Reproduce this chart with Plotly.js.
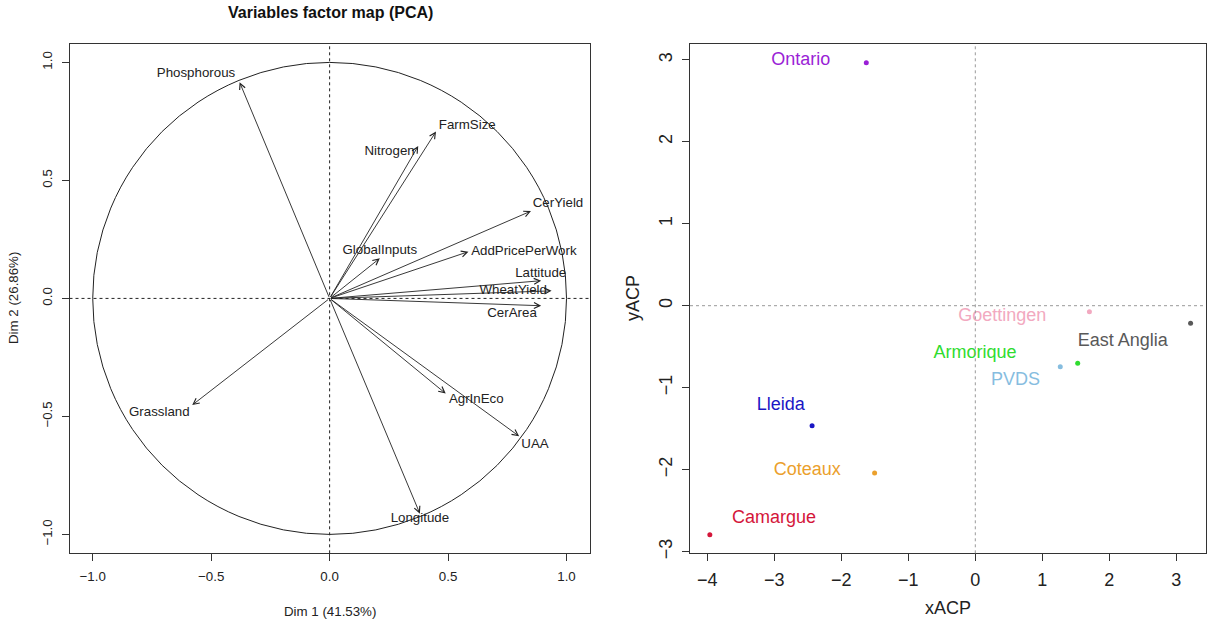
<!DOCTYPE html>
<html><head><meta charset="utf-8">
<script src="https://cdn.plot.ly/plotly-3.0.1.min.js"></script>
<style>html,body{margin:0;padding:0;background:#fff}#chart{width:1213px;height:624px}</style>
</head><body><div id="chart"></div>
<script>
// ---- Data: PCA variable loadings (left panel) ----
const variables = ['Phosphorous','Nitrogen','FarmSize','CerYield','GlobalInputs','AddPricePerWork','Lattitude','WheatYield','CerArea','Grassland','AgrInEco','UAA','Longitude'];
const dim1 = [-0.380, 0.374, 0.449, 0.850, 0.212, 0.586, 0.893, 0.937, 0.893, -0.580, 0.490, 0.800, 0.381];
const dim2 = [0.916, 0.646, 0.707, 0.370, 0.170, 0.198, 0.075, 0.032, -0.031, -0.452, -0.403, -0.584, -0.912];
const varLabelX = [-0.564, 0.253, 0.581, 0.964, 0.212, 0.820, 0.891, 0.775, 0.770, -0.719, 0.619, 0.867, 0.381];
const varLabelY = [0.954, 0.622, 0.732, 0.400, 0.204, 0.196, 0.106, 0.032, -0.064, -0.485, -0.431, -0.618, -0.935];
const leftTicks = [-1.0, -0.5, 0.0, 0.5, 1.0];

// ---- Data: individuals (right panel) ----
const regions = ['Ontario','Goettingen','East Anglia','Armorique','PVDS','Lleida','Coteaux','Camargue'];
const xACP = [-1.627, 1.703, 3.213, 1.528, 1.268, -2.436, -1.503, -3.962];
const yACP = [2.965, -0.073, -0.215, -0.703, -0.744, -1.464, -2.042, -2.794];
const regionLabelX = [-2.605, 0.403, 2.201, -0.003, 0.600, -2.904, -2.509, -3.005];
const regionLabelY = [2.990, -0.134, -0.439, -0.589, -0.907, -1.212, -2.013, -2.595];
const regionColors = ['#9A1FD6', '#F2A9C0', '#595959', '#2FDC2F', '#86BDDF', '#1A16C4', '#EBA02C', '#D4163A'];
const rightXTicks = [-4, -3, -2, -1, 0, 1, 2, 3];
const rightYTicks = [-3, -2, -1, 0, 1, 2, 3];

const FONT = 'Liberation Sans, Arial, Helvetica, sans-serif';
const INK = '#222222';
const W = 1213, H = 624;

const traces = [
  {
    type: 'scatter', mode: 'text', x: varLabelX, y: varLabelY, text: variables,
    textposition: 'middle center', textfont: {family: FONT, size: 13.3, color: INK},
    xaxis: 'x', yaxis: 'y', hoverinfo: 'skip', showlegend: false, cliponaxis: false
  },
  {
    type: 'scatter', mode: 'markers', x: xACP, y: yACP, text: regions,
    marker: {size: 5, color: regionColors},
    xaxis: 'x2', yaxis: 'y2', showlegend: false
  },
  {
    type: 'scatter', mode: 'text', x: regionLabelX, y: regionLabelY, text: regions,
    textposition: 'middle center', textfont: {family: FONT, size: 18, color: regionColors},
    xaxis: 'x2', yaxis: 'y2', hoverinfo: 'skip', showlegend: false, cliponaxis: false
  }
];

const annotations = variables.map((v, i) => ({
  xref: 'x', yref: 'y', axref: 'x', ayref: 'y',
  x: dim1[i], y: dim2[i], ax: 0, ay: 0,
  text: '', showarrow: true, arrowhead: 5, arrowsize: 1.3, arrowwidth: 0.9,
  arrowcolor: INK, standoff: 0, startstandoff: 0
}));

annotations.push(
  {xref: 'paper', yref: 'paper', x: 330/W, y: 1 - 12/H, text: '<b>Variables factor map (PCA)</b>',
   showarrow: false, font: {family: FONT, size: 16, color: '#111'}, xanchor: 'center', yanchor: 'middle'},
  {xref: 'paper', yref: 'paper', x: 330/W, y: 1 - 611/H, text: 'Dim 1 (41.53%)',
   showarrow: false, font: {family: FONT, size: 13.3, color: INK}, xanchor: 'center', yanchor: 'middle'},
  {xref: 'paper', yref: 'paper', x: 13/W, y: 1 - 298/H, text: 'Dim 2 (26.86%)', textangle: -90,
   showarrow: false, font: {family: FONT, size: 13.3, color: INK}, xanchor: 'center', yanchor: 'middle'},
  {xref: 'paper', yref: 'paper', x: 948/W, y: 1 - 608/H, text: 'xACP',
   showarrow: false, font: {family: FONT, size: 18, color: INK}, xanchor: 'center', yanchor: 'middle'},
  {xref: 'paper', yref: 'paper', x: 633/W, y: 1 - 298/H, text: 'yACP', textangle: -90,
   showarrow: false, font: {family: FONT, size: 18, color: INK}, xanchor: 'center', yanchor: 'middle'}
);

const shapes = [
  {type: 'circle', xref: 'x', yref: 'y', x0: -1, x1: 1, y0: -1, y1: 1, line: {color: INK, width: 1}},
  {type: 'line', xref: 'x', yref: 'y domain', x0: 0, x1: 0, y0: 0, y1: 1, line: {color: INK, width: 1, dash: '3px,3px'}},
  {type: 'line', xref: 'x domain', yref: 'y', x0: 0, x1: 1, y0: 0, y1: 0, line: {color: INK, width: 1, dash: '3px,3px'}},
  {type: 'line', xref: 'x2', yref: 'y2 domain', x0: 0, x1: 0, y0: 0, y1: 1, line: {color: '#999', width: 1, dash: 'dot'}},
  {type: 'line', xref: 'x2 domain', yref: 'y2', x0: 0, x1: 1, y0: 0, y1: 0, line: {color: '#999', width: 1, dash: 'dot'}}
];

const axCommon = {
  showgrid: false, zeroline: false, showline: true, mirror: true, linecolor: '#333', linewidth: 1,
  ticks: 'outside', ticklen: 7, tickcolor: '#333', tickwidth: 1, automargin: false, fixedrange: true
};

const layout = {
  width: W, height: H,
  margin: {l: 0, r: 0, t: 0, b: 0},
  paper_bgcolor: '#ffffff', plot_bgcolor: '#ffffff',
  font: {family: FONT, color: INK},
  showlegend: false,
  xaxis: Object.assign({}, axCommon, {
    domain: [69.5/W, 589.5/W], range: [-1.098, 1.097], anchor: 'y',
    tickvals: leftTicks, tickformat: '.1f', tickfont: {family: FONT, size: 13.3, color: INK}, ticklabelstandoff: 4
  }),
  yaxis: Object.assign({}, axCommon, {
    domain: [1 - 553.3/H, 1 - 44/H], range: [-1.08, 1.078], anchor: 'x',
    tickvals: leftTicks, tickformat: '.1f', tickangle: -90, tickfont: {family: FONT, size: 13.3, color: INK}, ticklabelstandoff: 4
  }),
  xaxis2: Object.assign({}, axCommon, {
    domain: [690/W, 1206/W], range: [-4.258, 3.443], anchor: 'y2',
    tickvals: rightXTicks, tickfont: {family: FONT, size: 18, color: INK}, ticklabelstandoff: 3
  }),
  yaxis2: Object.assign({}, axCommon, {
    domain: [1 - 553.3/H, 1 - 44/H], range: [-3.021, 3.193], anchor: 'x2',
    tickvals: rightYTicks, tickangle: -90, tickfont: {family: FONT, size: 18, color: INK}, ticklabelstandoff: 3
  }),
  shapes: shapes,
  annotations: annotations
};

Plotly.newPlot('chart', traces, layout, {displayModeBar: false, staticPlot: true});
</script>
</body></html>
